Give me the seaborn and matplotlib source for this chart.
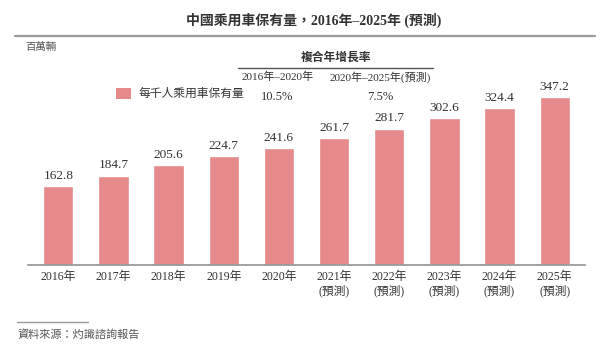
import matplotlib
matplotlib.use("Agg")
import matplotlib.pyplot as plt
from matplotlib.patches import Patch
from matplotlib.lines import Line2D
import seaborn as sns
import pandas as pd

# Passenger vehicle ownership per 1,000 people (millions scale header)
years = ["2016年", "2017年", "2018年", "2019年", "2020年",
         "2021年\n(預測)", "2022年\n(預測)", "2023年\n(預測)",
         "2024年\n(預測)", "2025年\n(預測)"]
values = [162.8, 184.7, 205.6, 224.7, 241.6, 261.7, 281.7, 302.6, 324.4, 347.2]
series_name = "每千人乘用車保有量"

cagr_title = "複合年增長率"
cagr_periods = ["2016年–2020年", "2020年–2025年(預測)"]
cagr_values = ["10.5%", "7.5%"]

title = "中國乘用車保有量，2016年–2025年 (預測)"
unit = "百萬輛"
source = "資料來源：灼識諮詢報告"

BAR = "#E6898A"
TXT = "#333333"
GREY = "#9a9a9a"
FONTS = ["Liberation Serif", "Noto Sans CJK TC", "DejaVu Sans"]

sns.set_theme(style="white")
plt.rcParams["font.family"] = FONTS
plt.rcParams["axes.unicode_minus"] = False

W, H = 600, 348
fig = plt.figure(figsize=(W / 100, H / 100), dpi=100)
fig.patch.set_facecolor("white")


def fx(px):
    return px / W


def fy(py):
    return 1 - py / H


ax = fig.add_axes([fx(28), fy(265), fx(557), 174.3 / H])

df = pd.DataFrame({"year": years, "value": values})
sns.barplot(data=df, x="year", y="value", color=BAR, saturation=1,
            width=0.55, ax=ax)
ax.set_ylim(0, 360)
ax.set_xlim(-0.55, len(years) - 0.45)
ax.bar_label(ax.containers[0], fmt="%.1f", padding=3, fontsize=9.5, color=TXT)

ax.set_xlabel("")
ax.set_ylabel("")
ax.set_yticks([])
for side in ["top", "right", "left"]:
    ax.spines[side].set_visible(False)
ax.spines["bottom"].set_color(GREY)
ax.spines["bottom"].set_linewidth(1.3)
ax.tick_params(axis="x", length=0, pad=4, labelsize=8.5, colors=TXT)
for lbl in ax.get_xticklabels():
    lbl.set_linespacing(1.25)

# Title and header rule
fig.text(fx(314), fy(20), title, ha="center", va="center", fontsize=10,
         fontweight="bold", color=TXT)
fig.add_artist(Line2D([fx(15), fx(595)], [fy(36), fy(36)], color=GREY,
                      linewidth=1.6, transform=fig.transFigure))
fig.text(fx(25), fy(47), unit, ha="left", va="center", fontsize=7.5,
         style="italic", color="#555555")

# Compound annual growth rate block
fig.text(fx(336), fy(58), cagr_title, ha="center", va="center", fontsize=8.5,
         fontweight="bold", color=TXT)
fig.add_artist(Line2D([fx(238), fx(433)], [fy(68), fy(68)], color="#555555",
                      linewidth=1.0, transform=fig.transFigure))
for cx, period, val in zip([277.5, 380], cagr_periods, cagr_values):
    fig.text(fx(cx), fy(77), period, ha="center", va="center", fontsize=8,
             color=TXT)
    fig.text(fx(cx), fy(97), val, ha="center", va="center", fontsize=9,
             color=TXT)

# Legend
leg = fig.legend(handles=[Patch(facecolor=BAR, edgecolor="none", label=series_name)],
                 loc="center left", bbox_to_anchor=(fx(110), fy(94)),
                 frameon=False, fontsize=8.5, handlelength=1.3,
                 handleheight=1.1, handletextpad=0.6, borderpad=0)
for t in leg.get_texts():
    t.set_color(TXT)

# Source footer
fig.add_artist(Line2D([fx(17), fx(88)], [fy(322), fy(322)], color=GREY,
                      linewidth=1.0, transform=fig.transFigure))
fig.text(fx(17), fy(335), source, ha="left", va="center", fontsize=8,
         style="italic", color="#555555")

fig.savefig("out.png", dpi=100)
